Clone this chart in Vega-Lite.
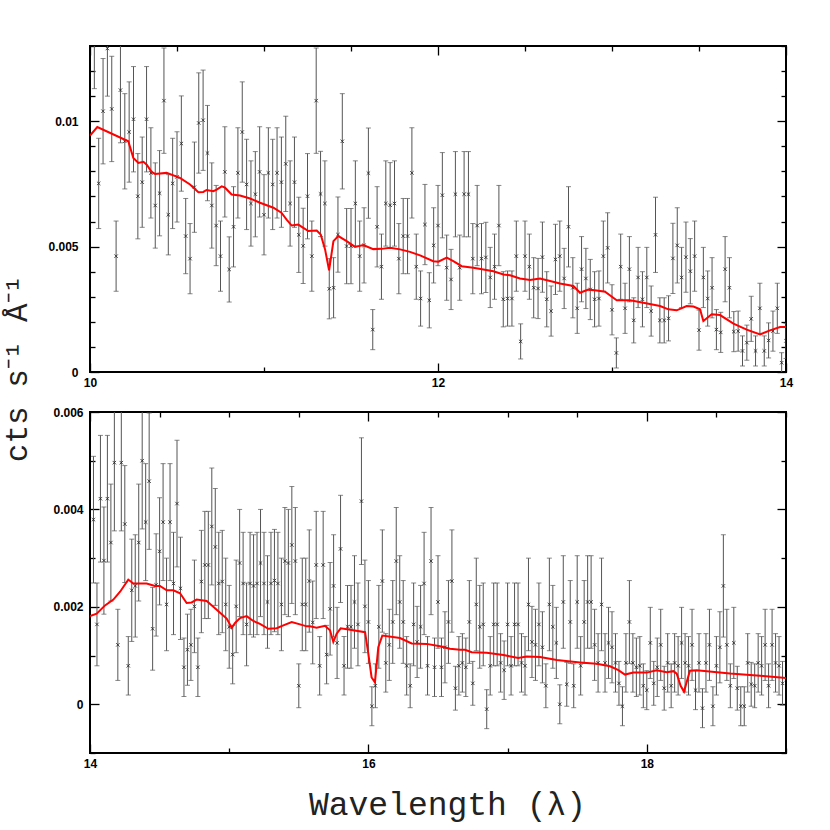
{
"$schema": "https://vega.github.io/schema/vega-lite/v6.json",
"padding": {"left": 0, "top": 39, "right": 0, "bottom": 12},
"spacing": 40,
"bounds": "flush",
"config": {
 "view": {"stroke": "black", "strokeWidth": 2},
 "axis": {"labelFont": "Liberation Sans", "labelFontSize": 12, "labelFontWeight": "bold", "labelColor": "black", "tickColor": "black", "tickWidth": 1.3, "domain": false, "grid": false, "labelFlush": false, "labelOverlap": false, "labelBound": false}
},
"datasets": {
"top": [
{"w":10.025,"y":0.0133,"e":0.002},{"w":10.05,"y":0.00752,"e":0.0018},{"w":10.075,"y":0.0104,"e":0.0021},{"w":10.1,"y":0.0129,"e":0.0019},{"w":10.125,"y":0.01049,"e":0.0021},{"w":10.15,"y":0.00462,"e":0.0014},{"w":10.175,"y":0.01124,"e":0.0021},{"w":10.2,"y":0.0092,"e":0.0019},{"w":10.225,"y":0.00957,"e":0.002},{"w":10.25,"y":0.01008,"e":0.0021},
{"w":10.275,"y":0.00701,"e":0.0017},{"w":10.3,"y":0.00757,"e":0.0018},{"w":10.325,"y":0.01008,"e":0.0021},{"w":10.35,"y":0.00794,"e":0.0018},{"w":10.375,"y":0.00664,"e":0.0017},{"w":10.4,"y":0.00713,"e":0.0017},{"w":10.425,"y":0.01082,"e":0.0021},{"w":10.45,"y":0.00627,"e":0.0016},{"w":10.475,"y":0.00752,"e":0.0018},{"w":10.5,"y":0.00778,"e":0.0018},
{"w":10.525,"y":0.00911,"e":0.0019},{"w":10.55,"y":0.00542,"e":0.0015},{"w":10.575,"y":0.00452,"e":0.0014},{"w":10.6,"y":0.00737,"e":0.0018},{"w":10.625,"y":0.00993,"e":0.002},{"w":10.65,"y":0.01004,"e":0.002},{"w":10.675,"y":0.00873,"e":0.0019},{"w":10.7,"y":0.00664,"e":0.0017},{"w":10.725,"y":0.00584,"e":0.0016},{"w":10.75,"y":0.00462,"e":0.0014},
{"w":10.775,"y":0.00798,"e":0.0018},{"w":10.8,"y":0.00409,"e":0.0013},{"w":10.825,"y":0.00579,"e":0.0016},{"w":10.85,"y":0.00794,"e":0.0018},{"w":10.875,"y":0.00957,"e":0.002},{"w":10.9,"y":0.00748,"e":0.0018},{"w":10.925,"y":0.00672,"e":0.0017},{"w":10.95,"y":0.00709,"e":0.0017},{"w":10.975,"y":0.00798,"e":0.0018},{"w":11.0,"y":0.00627,"e":0.0016},
{"w":11.025,"y":0.00794,"e":0.0018},{"w":11.05,"y":0.00748,"e":0.0018},{"w":11.075,"y":0.00794,"e":0.0018},{"w":11.1,"y":0.00757,"e":0.0018},{"w":11.125,"y":0.0083,"e":0.0019},{"w":11.15,"y":0.00672,"e":0.0017},{"w":11.175,"y":0.00757,"e":0.0018},{"w":11.2,"y":0.00547,"e":0.0015},{"w":11.225,"y":0.00503,"e":0.0015},{"w":11.25,"y":0.00701,"e":0.0017},
{"w":11.275,"y":0.00462,"e":0.0014},{"w":11.3,"y":0.01082,"e":0.0021},{"w":11.325,"y":0.0071,"e":0.0017},{"w":11.35,"y":0.00672,"e":0.0017},{"w":11.375,"y":0.00332,"e":0.0012},{"w":11.4,"y":0.00336,"e":0.0012},{"w":11.425,"y":0.00548,"e":0.0015},{"w":11.45,"y":0.0092,"e":0.0019},{"w":11.475,"y":0.00502,"e":0.0015},{"w":11.5,"y":0.00502,"e":0.0015},
{"w":11.525,"y":0.00672,"e":0.0017},{"w":11.55,"y":0.00462,"e":0.0014},{"w":11.575,"y":0.00505,"e":0.0015},{"w":11.6,"y":0.00793,"e":0.0018},{"w":11.625,"y":0.00169,"e":0.0008},{"w":11.65,"y":0.00579,"e":0.0016},{"w":11.675,"y":0.0042,"e":0.0013},{"w":11.7,"y":0.00672,"e":0.0017},{"w":11.725,"y":0.00665,"e":0.0017},{"w":11.75,"y":0.00672,"e":0.0017},
{"w":11.775,"y":0.00452,"e":0.0014},{"w":11.8,"y":0.00542,"e":0.0015},{"w":11.825,"y":0.00542,"e":0.0015},{"w":11.85,"y":0.00794,"e":0.0018},{"w":11.875,"y":0.0042,"e":0.0013},{"w":11.9,"y":0.00293,"e":0.0011},{"w":11.925,"y":0.00588,"e":0.0016},{"w":11.95,"y":0.00286,"e":0.0011},{"w":11.975,"y":0.00505,"e":0.0015},{"w":12.0,"y":0.00584,"e":0.0016},
{"w":12.025,"y":0.00705,"e":0.0017},{"w":12.05,"y":0.00416,"e":0.0013},{"w":12.075,"y":0.00369,"e":0.0012},{"w":12.1,"y":0.00709,"e":0.0017},{"w":12.125,"y":0.00416,"e":0.0013},{"w":12.15,"y":0.00709,"e":0.0017},{"w":12.175,"y":0.00709,"e":0.0017},{"w":12.2,"y":0.00452,"e":0.0014},{"w":12.225,"y":0.00584,"e":0.0016},{"w":12.25,"y":0.00452,"e":0.0014},
{"w":12.275,"y":0.00457,"e":0.0014},{"w":12.3,"y":0.00377,"e":0.0012},{"w":12.325,"y":0.0042,"e":0.0013},{"w":12.35,"y":0.00584,"e":0.0016},{"w":12.375,"y":0.0029,"e":0.0011},{"w":12.4,"y":0.00293,"e":0.0011},{"w":12.425,"y":0.00293,"e":0.0011},{"w":12.45,"y":0.00462,"e":0.0014},{"w":12.475,"y":0.00122,"e":0.0007},{"w":12.5,"y":0.00462,"e":0.0014},
{"w":12.525,"y":0.0042,"e":0.0013},{"w":12.55,"y":0.00336,"e":0.0012},{"w":12.575,"y":0.00333,"e":0.0012},{"w":12.6,"y":0.00458,"e":0.0014},{"w":12.625,"y":0.0029,"e":0.0011},{"w":12.65,"y":0.00243,"e":0.001},{"w":12.675,"y":0.00449,"e":0.0014},{"w":12.7,"y":0.00462,"e":0.0014},{"w":12.725,"y":0.00373,"e":0.0012},{"w":12.75,"y":0.00579,"e":0.0016},
{"w":12.775,"y":0.00336,"e":0.0012},{"w":12.8,"y":0.00254,"e":0.001},{"w":12.825,"y":0.0041,"e":0.0013},{"w":12.85,"y":0.00373,"e":0.0012},{"w":12.875,"y":0.00329,"e":0.0012},{"w":12.9,"y":0.0029,"e":0.0011},{"w":12.925,"y":0.00293,"e":0.0011},{"w":12.95,"y":0.00462,"e":0.0014},{"w":12.975,"y":0.00495,"e":0.0014},{"w":13.0,"y":0.00248,"e":0.001},
{"w":13.025,"y":0.00076,"e":0.0006},{"w":13.05,"y":0.0042,"e":0.0013},{"w":13.075,"y":0.00254,"e":0.001},{"w":13.1,"y":0.0041,"e":0.0013},{"w":13.125,"y":0.00206,"e":0.0009},{"w":13.15,"y":0.00377,"e":0.0012},{"w":13.175,"y":0.0029,"e":0.0011},{"w":13.2,"y":0.00377,"e":0.0012},{"w":13.225,"y":0.00243,"e":0.001},{"w":13.25,"y":0.00547,"e":0.0015},
{"w":13.275,"y":0.00206,"e":0.0009},{"w":13.3,"y":0.00206,"e":0.0009},{"w":13.325,"y":0.00214,"e":0.0009},{"w":13.35,"y":0.00453,"e":0.0014},{"w":13.375,"y":0.00505,"e":0.0015},{"w":13.4,"y":0.00377,"e":0.0012},{"w":13.425,"y":0.00458,"e":0.0014},{"w":13.45,"y":0.00402,"e":0.0013},{"w":13.475,"y":0.00462,"e":0.0014},{"w":13.5,"y":0.00167,"e":0.0008},
{"w":13.525,"y":0.00377,"e":0.0012},{"w":13.55,"y":0.00293,"e":0.0011},{"w":13.575,"y":0.00336,"e":0.0012},{"w":13.6,"y":0.00169,"e":0.0008},{"w":13.625,"y":0.00158,"e":0.0008},{"w":13.65,"y":0.0041,"e":0.0013},{"w":13.675,"y":0.00336,"e":0.0012},{"w":13.7,"y":0.00161,"e":0.0008},{"w":13.725,"y":0.00163,"e":0.0008},{"w":13.75,"y":0.00084,"e":0.0006},
{"w":13.775,"y":0.00117,"e":0.0007},{"w":13.8,"y":0.00212,"e":0.0009},{"w":13.825,"y":0.00084,"e":0.0006},{"w":13.85,"y":0.00254,"e":0.001},{"w":13.875,"y":0.00084,"e":0.0006},{"w":13.9,"y":0.00126,"e":0.0007},{"w":13.925,"y":0.00163,"e":0.0008},{"w":13.95,"y":0.00254,"e":0.001},{"w":13.975,"y":0.00037,"e":0.0004},{"w":14.0,"y":0.00124,"e":0.0007}
],
"topModel": [
{"w":10.0,"m":0.00943},{"w":10.042,"m":0.00977},{"w":10.22,"m":0.0092},{"w":10.249,"m":0.00854},{"w":10.278,"m":0.00834},{"w":10.307,"m":0.00838},{"w":10.326,"m":0.00827},{"w":10.354,"m":0.00798},{"w":10.374,"m":0.0079},{"w":10.44,"m":0.00794},
{"w":10.517,"m":0.00774},{"w":10.575,"m":0.00748},{"w":10.623,"m":0.00717},{"w":10.651,"m":0.00718},{"w":10.67,"m":0.00726},{"w":10.709,"m":0.00721},{"w":10.728,"m":0.00727},{"w":10.757,"m":0.0074},{"w":10.776,"m":0.00735},{"w":10.814,"m":0.00708},
{"w":10.862,"m":0.00704},{"w":10.92,"m":0.00692},{"w":10.977,"m":0.00675},{"w":11.054,"m":0.00655},{"w":11.1,"m":0.00635},{"w":11.13,"m":0.00608},{"w":11.159,"m":0.00584},{"w":11.197,"m":0.00588},{"w":11.226,"m":0.00575},{"w":11.255,"m":0.00562},
{"w":11.303,"m":0.00564},{"w":11.326,"m":0.00548},{"w":11.351,"m":0.00489},{"w":11.374,"m":0.00405},{"w":11.399,"m":0.00522},{"w":11.427,"m":0.00542},{"w":11.475,"m":0.00522},{"w":11.523,"m":0.00499},{"w":11.571,"m":0.00506},{"w":11.628,"m":0.0049},
{"w":11.676,"m":0.00491},{"w":11.724,"m":0.00495},{"w":11.782,"m":0.00489},{"w":11.839,"m":0.00479},{"w":11.897,"m":0.00465},{"w":11.973,"m":0.00442},{"w":12.002,"m":0.0044},{"w":12.05,"m":0.00456},{"w":12.088,"m":0.00442},{"w":12.136,"m":0.00422},
{"w":12.203,"m":0.00416},{"w":12.261,"m":0.00409},{"w":12.318,"m":0.00402},{"w":12.376,"m":0.00389},{"w":12.414,"m":0.00386},{"w":12.471,"m":0.00373},{"w":12.529,"m":0.00367},{"w":12.586,"m":0.00373},{"w":12.644,"m":0.00363},{"w":12.701,"m":0.00353},
{"w":12.778,"m":0.00343},{"w":12.816,"m":0.00316},{"w":12.864,"m":0.00329},{"w":12.912,"m":0.00325},{"w":12.96,"m":0.0032},{"w":13.027,"m":0.00286},{"w":13.104,"m":0.00286},{"w":13.18,"m":0.00276},{"w":13.276,"m":0.00263},{"w":13.324,"m":0.0025},
{"w":13.372,"m":0.00246},{"w":13.429,"m":0.00263},{"w":13.468,"m":0.00261},{"w":13.506,"m":0.0025},{"w":13.525,"m":0.00203},{"w":13.573,"m":0.0023},{"w":13.621,"m":0.00227},{"w":13.698,"m":0.00193},{"w":13.774,"m":0.00169},{"w":13.851,"m":0.0015},
{"w":13.908,"m":0.00166},{"w":13.966,"m":0.00179},{"w":14.004,"m":0.0018}
],
"bot": [
{"w":14.025,"y":0.00379,"e":0.0013},{"w":14.05,"y":0.00164,"e":0.00085},{"w":14.075,"y":0.00422,"e":0.0013},{"w":14.1,"y":0.00295,"e":0.0011},{"w":14.125,"y":0.00422,"e":0.0013},{"w":14.15,"y":0.00332,"e":0.0012},{"w":14.175,"y":0.00496,"e":0.0014},{"w":14.2,"y":0.00122,"e":0.00073},{"w":14.225,"y":0.00496,"e":0.0014},{"w":14.25,"y":0.0037,"e":0.0012},
{"w":14.275,"y":0.00079,"e":0.0006},{"w":14.3,"y":0.00234,"e":0.00105},{"w":14.325,"y":0.00243,"e":0.00105},{"w":14.35,"y":0.00332,"e":0.0012},{"w":14.375,"y":0.005,"e":0.0014},{"w":14.4,"y":0.00374,"e":0.0012},{"w":14.425,"y":0.00458,"e":0.0014},{"w":14.45,"y":0.00155,"e":0.00085},{"w":14.475,"y":0.00245,"e":0.00105},{"w":14.5,"y":0.00314,"e":0.0011},
{"w":14.525,"y":0.00374,"e":0.0012},{"w":14.55,"y":0.00205,"e":0.00095},{"w":14.575,"y":0.00374,"e":0.0012},{"w":14.6,"y":0.00248,"e":0.00105},{"w":14.625,"y":0.00412,"e":0.0013},{"w":14.65,"y":0.00238,"e":0.00105},{"w":14.675,"y":0.00076,"e":0.0006},{"w":14.7,"y":0.00112,"e":0.00073},{"w":14.725,"y":0.00122,"e":0.00073},{"w":14.75,"y":0.00201,"e":0.00095},
{"w":14.775,"y":0.00076,"e":0.0006},{"w":14.8,"y":0.00252,"e":0.00105},{"w":14.825,"y":0.00286,"e":0.0011},{"w":14.85,"y":0.00286,"e":0.0011},{"w":14.875,"y":0.00365,"e":0.0012},{"w":14.9,"y":0.00323,"e":0.0012},{"w":14.925,"y":0.00248,"e":0.00105},{"w":14.95,"y":0.00252,"e":0.00105},{"w":14.975,"y":0.00205,"e":0.00095},{"w":15.0,"y":0.00159,"e":0.00085},
{"w":15.025,"y":0.00102,"e":0.0006},{"w":15.05,"y":0.00201,"e":0.00095},{"w":15.075,"y":0.0029,"e":0.0011},{"w":15.1,"y":0.00248,"e":0.00105},{"w":15.125,"y":0.00164,"e":0.00085},{"w":15.15,"y":0.00248,"e":0.00105},{"w":15.175,"y":0.00243,"e":0.00105},{"w":15.2,"y":0.00248,"e":0.00105},{"w":15.225,"y":0.0029,"e":0.0011},{"w":15.25,"y":0.00248,"e":0.00105},
{"w":15.275,"y":0.0021,"e":0.00095},{"w":15.3,"y":0.00248,"e":0.00105},{"w":15.325,"y":0.00254,"e":0.00105},{"w":15.35,"y":0.00248,"e":0.00105},{"w":15.375,"y":0.00205,"e":0.00095},{"w":15.4,"y":0.00294,"e":0.0011},{"w":15.425,"y":0.0029,"e":0.0011},{"w":15.45,"y":0.00327,"e":0.0012},{"w":15.475,"y":0.00294,"e":0.0011},{"w":15.5,"y":0.00038,"e":0.00045},
{"w":15.525,"y":0.00205,"e":0.00095},{"w":15.55,"y":0.00205,"e":0.00095},{"w":15.575,"y":0.00253,"e":0.00105},{"w":15.6,"y":0.00168,"e":0.00085},{"w":15.625,"y":0.00286,"e":0.0011},{"w":15.65,"y":0.00079,"e":0.0006},{"w":15.675,"y":0.00286,"e":0.0011},{"w":15.7,"y":0.00102,"e":0.0006},{"w":15.725,"y":0.00196,"e":0.00095},{"w":15.75,"y":0.00243,"e":0.00105},
{"w":15.775,"y":0.00126,"e":0.00073},{"w":15.8,"y":0.00319,"e":0.0011},{"w":15.825,"y":0.00079,"e":0.0006},{"w":15.85,"y":0.00159,"e":0.00085},{"w":15.875,"y":0.00159,"e":0.00085},{"w":15.9,"y":0.0021,"e":0.00095},{"w":15.925,"y":0.00164,"e":0.00085},{"w":15.95,"y":0.00417,"e":0.0013},{"w":15.975,"y":0.00201,"e":0.00095},{"w":16.0,"y":0.00169,"e":0.00085},
{"w":16.025,"y":-0.00004,"e":0.0004},{"w":16.05,"y":0.00038,"e":0.00045},{"w":16.075,"y":0.00159,"e":0.00085},{"w":16.1,"y":0.00253,"e":0.00105},{"w":16.125,"y":0.00085,"e":0.0006},{"w":16.15,"y":0.00122,"e":0.00073},{"w":16.175,"y":0.00169,"e":0.00085},{"w":16.2,"y":0.00294,"e":0.0011},{"w":16.225,"y":0.0021,"e":0.00095},{"w":16.25,"y":0.00169,"e":0.00085},
{"w":16.275,"y":0.00079,"e":0.0006},{"w":16.3,"y":0.00038,"e":0.00045},{"w":16.325,"y":0.00164,"e":0.00085},{"w":16.35,"y":0.00128,"e":0.00073},{"w":16.375,"y":0.00159,"e":0.00085},{"w":16.4,"y":0.00248,"e":0.00105},{"w":16.425,"y":0.00079,"e":0.0006},{"w":16.45,"y":0.00294,"e":0.0011},{"w":16.475,"y":0.00076,"e":0.0006},{"w":16.5,"y":0.0021,"e":0.00095},
{"w":16.525,"y":0.00076,"e":0.0006},{"w":16.55,"y":0.00117,"e":0.00073},{"w":16.575,"y":0.00169,"e":0.00085},{"w":16.6,"y":0.00253,"e":0.00105},{"w":16.625,"y":0.00033,"e":0.00045},{"w":16.65,"y":0.00079,"e":0.0006},{"w":16.675,"y":0.00085,"e":0.0006},{"w":16.7,"y":0.00076,"e":0.0006},{"w":16.725,"y":0.00169,"e":0.00085},{"w":16.75,"y":0.00043,"e":0.00045},
{"w":16.775,"y":0.00205,"e":0.00095},{"w":16.8,"y":0.00159,"e":0.00085},{"w":16.825,"y":0.00164,"e":0.00085},{"w":16.85,"y":-0.0001,"e":0.0004},{"w":16.875,"y":0.00079,"e":0.0006},{"w":16.9,"y":0.00164,"e":0.00085},{"w":16.925,"y":0.00164,"e":0.00085},{"w":16.95,"y":0.00085,"e":0.0006},{"w":16.975,"y":0.0007,"e":0.0006},{"w":17.0,"y":0.00164,"e":0.00085},
{"w":17.025,"y":0.00079,"e":0.0006},{"w":17.05,"y":0.00164,"e":0.00085},{"w":17.075,"y":0.00164,"e":0.00085},{"w":17.1,"y":0.00085,"e":0.0006},{"w":17.125,"y":0.00079,"e":0.0006},{"w":17.15,"y":0.00205,"e":0.00095},{"w":17.175,"y":0.00128,"e":0.00073},{"w":17.2,"y":0.00122,"e":0.00073},{"w":17.225,"y":0.00164,"e":0.00085},{"w":17.25,"y":0.00117,"e":0.00073},
{"w":17.275,"y":0.00038,"e":0.00045},{"w":17.3,"y":0.00205,"e":0.00095},{"w":17.325,"y":0.00159,"e":0.00085},{"w":17.35,"y":0.00126,"e":0.00073},{"w":17.375,"y":0.0,"e":0.0004},{"w":17.4,"y":0.0021,"e":0.00095},{"w":17.425,"y":0.00041,"e":0.00045},{"w":17.45,"y":0.00169,"e":0.00085},{"w":17.475,"y":0.00038,"e":0.00045},{"w":17.5,"y":0.0021,"e":0.00095},
{"w":17.525,"y":0.00079,"e":0.0006},{"w":17.55,"y":0.00169,"e":0.00085},{"w":17.575,"y":0.0021,"e":0.00095},{"w":17.6,"y":0.0021,"e":0.00095},{"w":17.625,"y":0.00122,"e":0.00073},{"w":17.65,"y":0.00085,"e":0.0006},{"w":17.675,"y":0.00205,"e":0.00095},{"w":17.7,"y":0.00085,"e":0.0006},{"w":17.725,"y":0.00126,"e":0.00073},{"w":17.75,"y":0.00117,"e":0.00073},
{"w":17.775,"y":0.00085,"e":0.0006},{"w":17.8,"y":0.00043,"e":0.00045},{"w":17.825,"y":-0.00004,"e":0.0004},{"w":17.85,"y":0.00085,"e":0.0006},{"w":17.875,"y":0.00169,"e":0.00085},{"w":17.9,"y":0.00085,"e":0.0006},{"w":17.925,"y":0.00076,"e":0.0006},{"w":17.95,"y":0.00079,"e":0.0006},{"w":17.975,"y":0.00038,"e":0.00045},{"w":18.0,"y":0.00029,"e":0.0004},
{"w":18.025,"y":0.00126,"e":0.00073},{"w":18.05,"y":0.00043,"e":0.00045},{"w":18.075,"y":0.00076,"e":0.0006},{"w":18.1,"y":0.00122,"e":0.00073},{"w":18.125,"y":0.00033,"e":0.00045},{"w":18.15,"y":0.00085,"e":0.0006},{"w":18.175,"y":0.00038,"e":0.00045},{"w":18.2,"y":0.00085,"e":0.0006},{"w":18.225,"y":0.00079,"e":0.0006},{"w":18.25,"y":0.00126,"e":0.00073},
{"w":18.275,"y":0.00085,"e":0.0006},{"w":18.3,"y":0.00079,"e":0.0006},{"w":18.325,"y":0.00122,"e":0.00073},{"w":18.35,"y":0.00029,"e":0.0004},{"w":18.375,"y":0.00085,"e":0.0006},{"w":18.4,"y":-0.00008,"e":0.0004},{"w":18.425,"y":0.00085,"e":0.0006},{"w":18.45,"y":0.00122,"e":0.00073},{"w":18.475,"y":-0.00004,"e":0.0004},{"w":18.5,"y":0.00079,"e":0.0006},
{"w":18.525,"y":0.00117,"e":0.00073},{"w":18.55,"y":0.00243,"e":0.00105},{"w":18.575,"y":0.00122,"e":0.00073},{"w":18.6,"y":0.00038,"e":0.00045},{"w":18.625,"y":0.00126,"e":0.00073},{"w":18.65,"y":0.00033,"e":0.00045},{"w":18.675,"y":-0.00004,"e":0.0004},{"w":18.7,"y":-0.00004,"e":0.0004},{"w":18.725,"y":0.00085,"e":0.0006},{"w":18.75,"y":0.00041,"e":0.00045},
{"w":18.775,"y":0.00038,"e":0.00045},{"w":18.8,"y":0.00085,"e":0.0006},{"w":18.825,"y":0.00079,"e":0.0006},{"w":18.85,"y":0.00122,"e":0.00073},{"w":18.875,"y":0.00038,"e":0.00045},{"w":18.9,"y":0.00122,"e":0.00073},{"w":18.925,"y":0.00085,"e":0.0006},{"w":18.95,"y":0.00079,"e":0.0006},{"w":18.975,"y":0.00043,"e":0.00045}
],
"botModel": [
{"w":14.0,"m":0.00181},{"w":14.048,"m":0.00186},{"w":14.108,"m":0.00203},{"w":14.168,"m":0.00215},{"w":14.216,"m":0.00231},{"w":14.275,"m":0.00256},{"w":14.311,"m":0.00248},{"w":14.407,"m":0.00248},{"w":14.467,"m":0.00243},{"w":14.503,"m":0.00243},
{"w":14.551,"m":0.00234},{"w":14.599,"m":0.00234},{"w":14.647,"m":0.00228},{"w":14.694,"m":0.00208},{"w":14.73,"m":0.00209},{"w":14.766,"m":0.00215},{"w":14.838,"m":0.00212},{"w":14.886,"m":0.002},{"w":14.934,"m":0.00188},{"w":14.982,"m":0.00176},
{"w":15.018,"m":0.00157},{"w":15.042,"m":0.00167},{"w":15.078,"m":0.00177},{"w":15.125,"m":0.00181},{"w":15.173,"m":0.00171},{"w":15.221,"m":0.00165},{"w":15.281,"m":0.00155},{"w":15.341,"m":0.00156},{"w":15.389,"m":0.00162},{"w":15.449,"m":0.00169},
{"w":15.509,"m":0.00164},{"w":15.557,"m":0.0016},{"w":15.58,"m":0.0016},{"w":15.628,"m":0.00157},{"w":15.688,"m":0.00161},{"w":15.724,"m":0.00152},{"w":15.748,"m":0.00128},{"w":15.772,"m":0.00145},{"w":15.801,"m":0.00156},{"w":15.868,"m":0.00153},
{"w":15.976,"m":0.00148},{"w":16.0,"m":0.00103},{"w":16.023,"m":0.00055},{"w":16.047,"m":0.00045},{"w":16.071,"m":0.00117},{"w":16.1,"m":0.00141},{"w":16.227,"m":0.00136},{"w":16.311,"m":0.00125},{"w":16.419,"m":0.00124},{"w":16.514,"m":0.00119},
{"w":16.586,"m":0.00114},{"w":16.658,"m":0.00112},{"w":16.694,"m":0.00112},{"w":16.742,"m":0.00107},{"w":16.85,"m":0.00106},{"w":16.97,"m":0.00101},{"w":17.077,"m":0.00095},{"w":17.137,"m":0.00098},{"w":17.233,"m":0.00097},{"w":17.353,"m":0.00091},
{"w":17.52,"m":0.00086},{"w":17.64,"m":0.00083},{"w":17.736,"m":0.00078},{"w":17.796,"m":0.0007},{"w":17.843,"m":0.00061},{"w":17.903,"m":0.00065},{"w":17.999,"m":0.00065},{"w":18.071,"m":0.0007},{"w":18.143,"m":0.00066},{"w":18.191,"m":0.00068},
{"w":18.215,"m":0.00063},{"w":18.243,"m":0.00038},{"w":18.267,"m":0.00026},{"w":18.286,"m":0.00045},{"w":18.31,"m":0.00069},{"w":18.358,"m":0.0007},{"w":18.598,"m":0.00063},{"w":18.837,"m":0.00058},{"w":19.005,"m":0.00054}
]
},
"vconcat": [
{
 "width": 696, "height": 326,
 "layer": [
  {"data": {"name": "top"},
   "mark": {"type": "errorbar", "ticks": {"size": 5, "thickness": 1, "color": "#555"}, "rule": {"color": "#555", "strokeWidth": 1}, "clip": true},
   "encoding": {
    "x": {"field": "w", "type": "quantitative", "scale": {"domain": [10, 14], "nice": false, "zero": false},
     "axis": {"orient": "bottom", "values": [10,10.5,11,11.5,12,12.5,13,13.5,14], "format": "d", "labelExpr": "(datum.value == 10 || datum.value == 12 || datum.value == 14) ? datum.label : ''", "tickSize": {"condition": {"test": "datum.value == 10 || datum.value == 12 || datum.value == 14", "value": -9}, "value": -5}, "labelPadding": 14, "title": null}},
    "y": {"field": "y", "type": "quantitative", "scale": {"domain": [0, 0.013], "nice": false, "zero": false},
     "axis": {"orient": "left", "values": [0,0.001,0.002,0.003,0.004,0.005,0.006,0.007,0.008,0.009,0.01,0.011,0.012,0.013], "format": "~g", "labelExpr": "(datum.value == 0 || datum.value == 0.005 || datum.value == 0.01) ? datum.label : ''", "tickSize": {"condition": {"test": "datum.value == 0 || datum.value == 0.005 || datum.value == 0.01", "value": -9}, "value": -5}, "labelPadding": 21,
      "title": "cts  s⁻¹  Å⁻¹", "titleFont": "Liberation Mono", "titleFontSize": 31, "titleFontWeight": "normal", "titleColor": "#222", "titleX": -64, "titleY": 322, "titleAngle": -90, "titleBaseline": "alphabetic", "titleAlign": "center"}},
    "yError": {"field": "e"}
   }},
  {"data": {"name": "top"},
   "mark": {"type": "point", "shape": "M-1,-1L1,1M-1,1L1,-1", "size": 12, "filled": false, "color": "#222", "strokeWidth": 0.8, "opacity": 1, "clip": true},
   "encoding": {
    "x": {"field": "w", "type": "quantitative", "axis": {"orient": "top", "values": [10,10.5,11,11.5,12,12.5,13,13.5,14], "labels": false, "tickSize": {"condition": {"test": "datum.value == 10 || datum.value == 12 || datum.value == 14", "value": -9}, "value": -5}, "title": null}},
    "y": {"field": "y", "type": "quantitative", "axis": {"orient": "right", "values": [0,0.001,0.002,0.003,0.004,0.005,0.006,0.007,0.008,0.009,0.01,0.011,0.012,0.013], "labels": false, "tickSize": {"condition": {"test": "datum.value == 0 || datum.value == 0.005 || datum.value == 0.01", "value": -9}, "value": -5}, "title": null}}
   }},
  {"data": {"name": "topModel"},
   "mark": {"type": "line", "color": "#ff0000", "strokeWidth": 2, "clip": true},
   "encoding": {
    "x": {"field": "w", "type": "quantitative", "axis": null},
    "y": {"field": "m", "type": "quantitative", "axis": null}
   }}
 ],
 "resolve": {"axis": {"x": "independent", "y": "independent"}}
},
{
 "width": 696, "height": 341,
 "layer": [
  {"data": {"name": "bot"},
   "mark": {"type": "errorbar", "ticks": {"size": 5, "thickness": 1, "color": "#555"}, "rule": {"color": "#555", "strokeWidth": 1}, "clip": true},
   "encoding": {
    "x": {"field": "w", "type": "quantitative", "scale": {"domain": [14, 19], "nice": false, "zero": false},
     "axis": {"orient": "bottom", "values": [14,14.5,15,15.5,16,16.5,17,17.5,18,18.5,19], "format": "d", "labelExpr": "(datum.value == 14 || datum.value == 16 || datum.value == 18) ? datum.label : ''", "tickSize": {"condition": {"test": "datum.value == 14 || datum.value == 16 || datum.value == 18", "value": -9}, "value": -5}, "labelPadding": 14,
      "title": "Wavelength (λ)", "titleFont": "Liberation Mono", "titleFontSize": 33, "titleFontWeight": "normal", "titleColor": "#222", "titleX": 357, "titleY": 61, "titleBaseline": "alphabetic", "titleAlign": "center"}},
    "y": {"field": "y", "type": "quantitative", "scale": {"domain": [-0.001, 0.006], "nice": false, "zero": false},
     "axis": {"orient": "left", "values": [-0.001,0,0.001,0.002,0.003,0.004,0.005,0.006], "format": "~g", "labelExpr": "(datum.value == 0 || datum.value == 0.002 || datum.value == 0.004 || datum.value == 0.006) ? datum.label : ''", "tickSize": {"condition": {"test": "datum.value == 0 || datum.value == 0.002 || datum.value == 0.004 || datum.value == 0.006", "value": -9}, "value": -5}, "labelPadding": 16, "title": null}},
    "yError": {"field": "e"}
   }},
  {"data": {"name": "bot"},
   "mark": {"type": "point", "shape": "M-1,-1L1,1M-1,1L1,-1", "size": 12, "filled": false, "color": "#222", "strokeWidth": 0.8, "opacity": 1, "clip": true},
   "encoding": {
    "x": {"field": "w", "type": "quantitative", "axis": {"orient": "top", "values": [14,14.5,15,15.5,16,16.5,17,17.5,18,18.5,19], "labels": false, "tickSize": {"condition": {"test": "datum.value == 14 || datum.value == 16 || datum.value == 18", "value": -9}, "value": -5}, "title": null}},
    "y": {"field": "y", "type": "quantitative", "axis": {"orient": "right", "values": [-0.001,0,0.001,0.002,0.003,0.004,0.005,0.006], "labels": false, "tickSize": {"condition": {"test": "datum.value == 0 || datum.value == 0.002 || datum.value == 0.004 || datum.value == 0.006", "value": -9}, "value": -5}, "title": null}}
   }},
  {"data": {"name": "botModel"},
   "mark": {"type": "line", "color": "#ff0000", "strokeWidth": 2, "clip": true},
   "encoding": {
    "x": {"field": "w", "type": "quantitative", "axis": null},
    "y": {"field": "m", "type": "quantitative", "axis": null}
   }}
 ],
 "resolve": {"axis": {"x": "independent", "y": "independent"}}
}
]
}
